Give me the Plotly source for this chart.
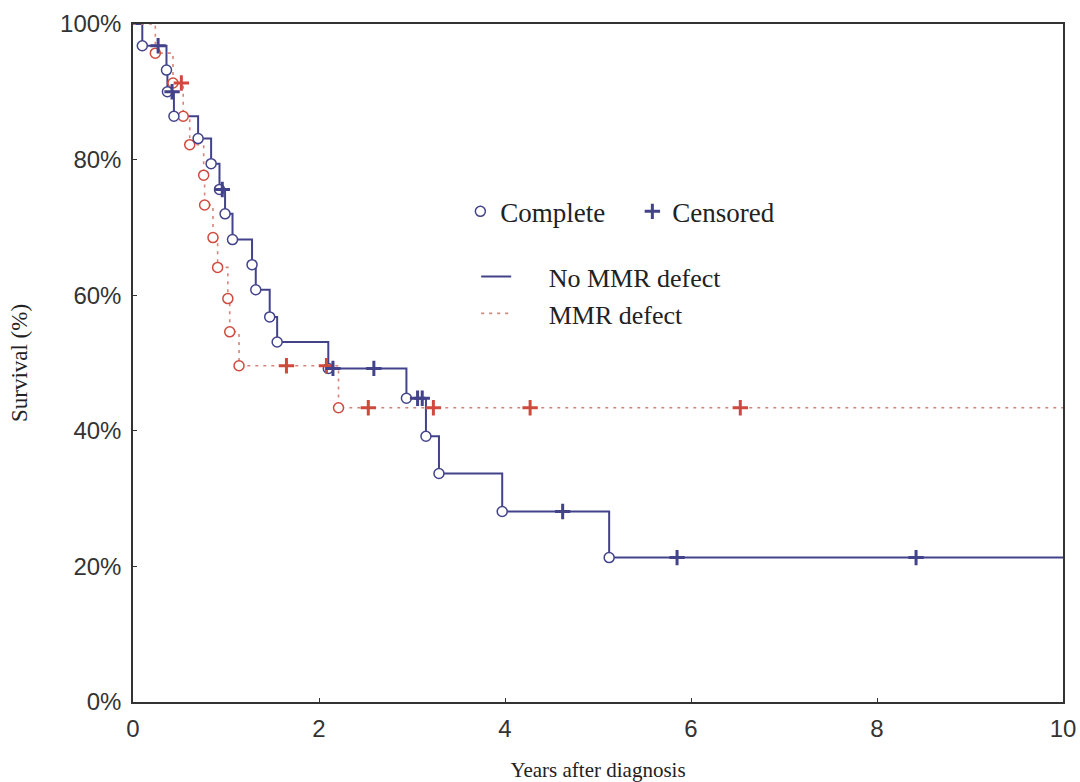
import plotly.graph_objects as go

# ---- data ----
# No MMR defect (blue): death times (years) and survival (%) after each death
blue_death_t = [0.10, 0.36, 0.37, 0.44, 0.70, 0.84, 0.93, 0.99, 1.07, 1.28, 1.32, 1.47, 1.55,
                2.10, 2.94, 3.15, 3.29, 3.97, 5.12]
blue_surv = [96.8, 93.2, 90.0, 86.4, 83.1, 79.4, 75.6, 72.0, 68.2, 64.5, 60.8, 56.8, 53.1,
             49.2, 44.8, 39.2, 33.7, 28.1, 21.3]
blue_censor_t = [0.27, 0.42, 0.96, 2.15, 2.59, 3.06, 3.11, 4.62, 5.85, 8.42]

# MMR defect (red)
red_death_t = [0.24, 0.43, 0.54, 0.61, 0.76, 0.77, 0.86, 0.91, 1.02, 1.04, 1.14, 2.21]
red_surv = [95.7, 91.3, 86.4, 82.2, 77.7, 73.3, 68.5, 64.1, 59.5, 54.6, 49.6, 43.4]
red_censor_t = [0.52, 1.65, 2.08, 2.53, 3.23, 4.27, 6.53]

x_max = 10
x_ticks = [0, 2, 4, 6, 8, 10]
y_ticks = [0, 20, 40, 60, 80, 100]
y_tick_labels = ["0%", "20%", "40%", "60%", "80%", "100%"]

BLUE = "#43438c"
RED = "#d0493d"
RED_LINE = "#d6857a"
NB = "\u00a0"


def level_at(t, times, surv):
    s = 100.0
    for tt, ss in zip(times, surv):
        if tt <= t:
            s = ss
    return s


fig = go.Figure()

# step curves
fig.add_trace(go.Scatter(
    x=[0] + blue_death_t + [x_max], y=[100] + blue_surv + [blue_surv[-1]],
    mode="lines", line=dict(color=BLUE, width=2, shape="hv"),
    name=NB * 5 + "No MMR defect", legend="legend2"))
fig.add_trace(go.Scatter(
    x=[0] + red_death_t + [x_max], y=[100] + red_surv + [red_surv[-1]],
    mode="lines", line=dict(color=RED_LINE, width=1.6, shape="hv", dash="3px,5px"),
    name=NB * 5 + "MMR defect", legend="legend2"))

# complete (circles)
fig.add_trace(go.Scatter(
    x=red_death_t, y=red_surv, mode="markers", showlegend=False,
    marker=dict(symbol="circle", size=10, color="white", line=dict(color=RED, width=1.5))))
fig.add_trace(go.Scatter(
    x=blue_death_t, y=blue_surv, mode="markers", name="Complete", legend="legend",
    marker=dict(symbol="circle", size=10, color="white", line=dict(color=BLUE, width=1.5))))

# censored (crosses)
fig.add_trace(go.Scatter(
    x=red_censor_t, y=[level_at(t, red_death_t, red_surv) for t in red_censor_t],
    mode="markers", showlegend=False,
    marker=dict(symbol="cross-thin", size=11, line=dict(color=RED, width=3))))
fig.add_trace(go.Scatter(
    x=blue_censor_t, y=[level_at(t, blue_death_t, blue_surv) for t in blue_censor_t],
    mode="markers", name="Censored", legend="legend",
    marker=dict(symbol="cross-thin", size=11, line=dict(color=BLUE, width=3))))

axis_common = dict(showline=True, mirror=True, linecolor="#333333", linewidth=1.5,
                   showgrid=False, zeroline=False, ticks="inside", ticklen=4,
                   tickcolor="#333333", automargin=False,
                   tickfont=dict(family="Liberation Sans", size=24, color="#333333"))

fig.update_layout(
    width=1080, height=782,
    paper_bgcolor="white", plot_bgcolor="white",
    margin=dict(l=133, r=17, t=24, b=80),
    xaxis=dict(range=[0, x_max], tickvals=x_ticks, ticklabelstandoff=4,
               title=dict(text="Years after diagnosis", standoff=26,
                          font=dict(family="Liberation Serif", size=21, color="#222222")),
               **axis_common),
    yaxis=dict(range=[0, 100], tickvals=y_ticks, ticktext=y_tick_labels,
               ticklabelstandoff=5,
               title=dict(text="Survival (%)", standoff=26,
                          font=dict(family="Liberation Serif", size=23, color="#222222")),
               **axis_common),
    legend=dict(orientation="h", x=0.352, y=0.723, xanchor="left", yanchor="middle",
                bgcolor="rgba(0,0,0,0)", entrywidth=127,
                font=dict(family="Liberation Serif", size=27, color="#222222")),
    legend2=dict(orientation="v", x=0.369, y=0.600, xanchor="left", yanchor="middle",
                 bgcolor="rgba(0,0,0,0)",
                 font=dict(family="Liberation Serif", size=26, color="#222222")),
)

fig.write_html(
    "out.html",
    config={"displayModeBar": False},
    post_script="document.body.style.margin='0';document.body.style.overflow='hidden';",
)
